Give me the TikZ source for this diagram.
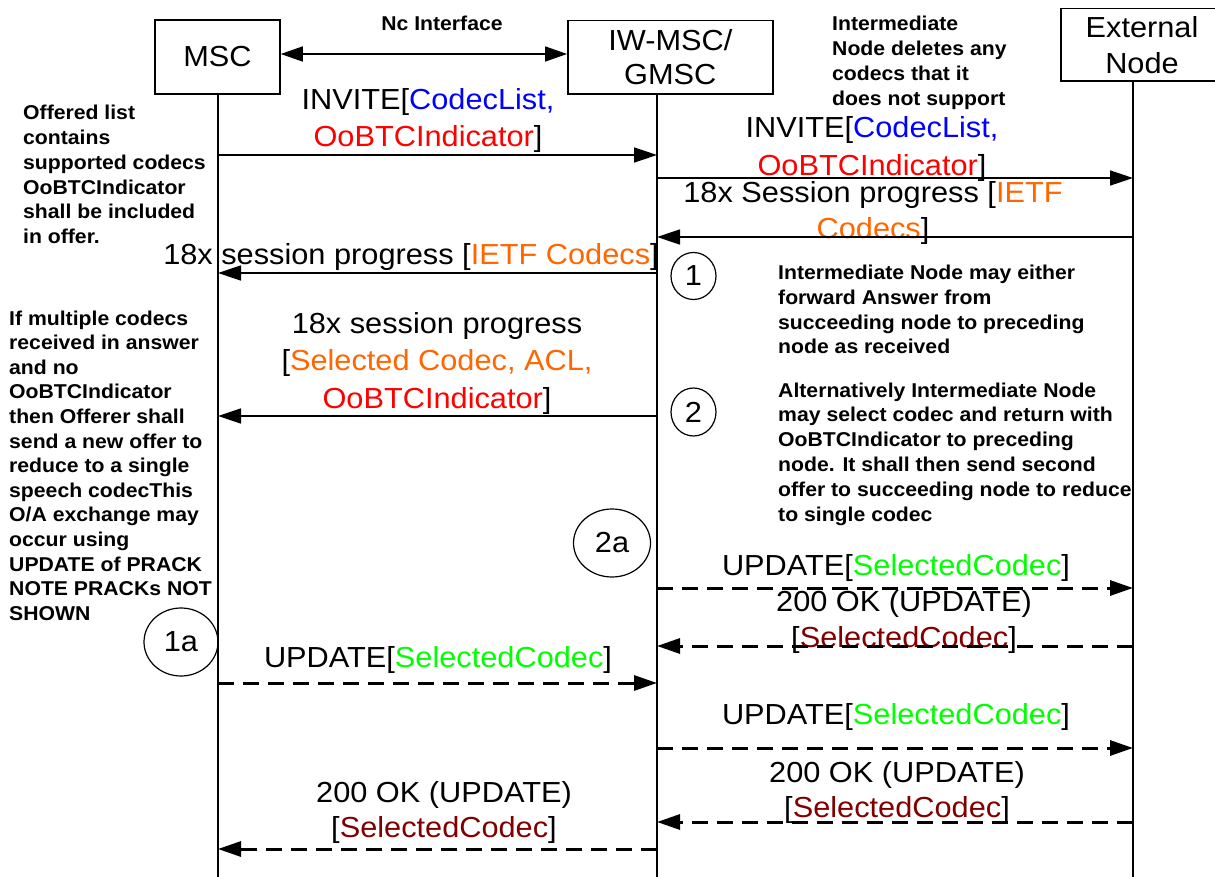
\documentclass[tikz,border=0pt]{standalone}
\usepackage{fontspec}
\setmainfont{Liberation Sans}[FakeStretch=1.06]
\usetikzlibrary{arrows.meta,shapes.geometric}
\definecolor{cblue}{RGB}{0,0,255}
\definecolor{cred}{RGB}{255,0,0}
\definecolor{corange}{RGB}{255,102,0}
\definecolor{cgreen}{RGB}{0,255,0}
\definecolor{cdred}{RGB}{128,0,0}
\newcommand\clines[2]{\vtop{\baselineskip=#1\halign{\hfil##\hfil\cr#2\crcr}}}
\newcommand\llines[2]{\vtop{\baselineskip=#1\halign{##\hfil\cr#2\crcr}}}
\newcommand\msgfont{\fontsize{29}{35}\selectfont}
\newcommand\notefont{\fontsize{20}{24.7}\selectfont\bfseries}
\tikzset{
  box/.style={draw, line width=1.5pt, inner sep=0pt, font=\msgfont},
  msgtext/.style={inner sep=0pt, anchor=base, font=\msgfont},
  note/.style={inner sep=0pt, anchor=base west, font=\notefont},
  ctext/.style={inner sep=0pt, anchor=base, font=\notefont},
  msg/.style={line width=1.5pt, -{Triangle[length=23pt,width=15pt]}},
  dmsg/.style={line width=3pt, dash pattern=on 16pt off 9pt, -{Triangle[length=23pt,width=15pt]}},
  life/.style={line width=1.5pt},
  markc/.style={ellipse, draw, line width=1.2pt, inner sep=0pt, font=\msgfont},
}
\begin{document}
\begin{tikzpicture}[x=1pt,y=-1pt]
\useasboundingbox (0,0) rectangle (1215,877);
\clip (0,0) rectangle (1215,877);

% lifeline positions
\coordinate (Lm) at (218,0);
\coordinate (Li) at (657,0);
\coordinate (Le) at (1133,0);
\coordinate (bot) at (0,877);

% boxes
\node[box, minimum width=125pt, minimum height=74pt] (msc) at (217.5,57) {MSC};
\node[box, minimum width=205pt, minimum height=73.5pt] (iw) at (670.3,57.3) {\clines{34pt}{IW-MSC/\cr GMSC}};
\node[box, minimum width=162pt, minimum height=72.7pt] (ext) at (1142,44.7) {\clines{36pt}{External\cr Node}};

% lifelines
\draw[life] (msc.south -| Lm) -- (Lm |- bot);
\draw[life] (iw.south -| Li) -- (Li |- bot);
\draw[life] (ext.south -| Le) -- (Le |- bot);

% Nc interface
\node[ctext] (nclabel) at (442,31) {Nc Interface};
\coordinate (nc) at (0,54);
\draw[line width=1.5pt, {Triangle[length=22pt,width=15pt]}-{Triangle[length=22pt,width=15pt]}] (msc.east |- nc) -- (iw.west |- nc);

% notes
\node[note] (n1) at (23,120) {\llines{24.7pt}{Offered list\cr
contains\cr
supported codecs\cr
OoBTCIndicator\cr
shall be included\cr
in offer.}};
\node[note] (n2) at (9,325) {\llines{24.6pt}{If multiple codecs\cr
received in answer\cr
and no\cr
OoBTCIndicator\cr
then Offerer shall\cr
send a new offer to\cr
reduce to a single\cr
speech codecThis\cr
O/A exchange may\cr
occur using\cr
UPDATE of PRACK\cr
NOTE PRACKs NOT\cr
SHOWN}};
\node[note] (n3) at (832,31) {\llines{24.8pt}{Intermediate\cr
Node deletes any\cr
codecs that it\cr
does not support}};
\node[note] (n4) at (778,279.5) {\llines{24.8pt}{Intermediate Node may either\cr
forward Answer from\cr
succeeding node to preceding\cr
node as received}};
\node[note] (n5) at (778,397) {\llines{24.8pt}{Alternatively Intermediate Node\cr
may select codec and return with\cr
OoBTCIndicator to preceding\cr
node. It shall then send second\cr
offer to succeeding node to reduce\cr
to single codec}};

% step markers
\node[markc, minimum width=45pt, minimum height=47pt] (c1) at (693.5,276) {1};
\node[markc, minimum width=45pt, minimum height=48pt] (c2) at (693.5,412) {2};
\node[markc, minimum width=77pt, minimum height=68pt] (c2a) at (612,543) {2a};
\node[markc, minimum width=74pt, minimum height=68pt] (c1a) at (181,642) {1a};

% message labels
\node[msgtext] (t1) at (428,110) {\clines{37pt}{INVITE[\textcolor{cblue}{CodecList,}\cr\textcolor{cred}{OoBTCIndicator}]}};
\node[msgtext] (t2) at (872,138) {\clines{38pt}{INVITE[\textcolor{cblue}{CodecList,}\cr\textcolor{cred}{OoBTCIndicator}]}};
\node[msgtext] (t3) at (873,203) {\clines{36pt}{18x Session progress [\textcolor{corange}{IETF}\cr\textcolor{corange}{Codecs}]}};
\node[msgtext] (t4) at (411,265) {18x session progress [\textcolor{corange}{IETF Codecs}]};
\node[msgtext] (t5) at (437,333) {\clines{37.5pt}{18x session progress\cr[\textcolor{corange}{Selected Codec, ACL,}\cr\textcolor{cred}{OoBTCIndicator}]}};
\node[msgtext] (t6) at (896,575) {UPDATE[\textcolor{cgreen}{SelectedCodec}]};
\node[msgtext] (t7) at (904,611) {\clines{36pt}{200 OK (UPDATE)\cr[\textcolor{cdred}{SelectedCodec}]}};
\node[msgtext] (t8) at (438,667) {UPDATE[\textcolor{cgreen}{SelectedCodec}]};
\node[msgtext] (t9) at (896,724) {UPDATE[\textcolor{cgreen}{SelectedCodec}]};
\node[msgtext] (t10) at (897,782) {\clines{35pt}{200 OK (UPDATE)\cr[\textcolor{cdred}{SelectedCodec}]}};
\node[msgtext] (t11) at (444,802) {\clines{35pt}{200 OK (UPDATE)\cr[\textcolor{cdred}{SelectedCodec}]}};

% message rows
\coordinate (y1) at (0,155);
\coordinate (y2) at (0,178);
\coordinate (y3) at (0,237);
\coordinate (y4) at (0,273);
\coordinate (y5) at (0,416);
\coordinate (y6) at (0,588);
\coordinate (y7) at (0,646);
\coordinate (y8) at (0,683);
\coordinate (y9) at (0,748);
\coordinate (y10) at (0,822);
\coordinate (y11) at (0,849);

\draw[msg] (Lm |- y1) -- (Li |- y1);
\draw[msg] (Li |- y2) -- (Le |- y2);
\draw[msg] (Le |- y3) -- (Li |- y3);
\draw[msg] (Li |- y4) -- (Lm |- y4);
\draw[msg] (Li |- y5) -- (Lm |- y5);
\draw[dmsg] (Li |- y6) -- (Le |- y6);
\draw[dmsg] (Le |- y7) -- (Li |- y7);
\draw[dmsg] (Lm |- y8) -- (Li |- y8);
\draw[dmsg] (Li |- y9) -- (Le |- y9);
\draw[dmsg] (Le |- y10) -- (Li |- y10);
\draw[dmsg] (Li |- y11) -- (Lm |- y11);
\end{tikzpicture}
\end{document}
